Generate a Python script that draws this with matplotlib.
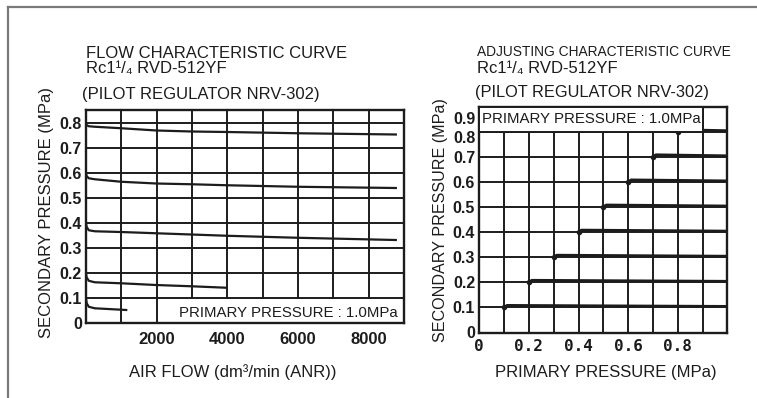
import matplotlib
matplotlib.use("Agg")
import matplotlib.pyplot as plt
from matplotlib.patches import Rectangle
from matplotlib.lines import Line2D
from matplotlib.transforms import ScaledTranslation
from matplotlib import font_manager

# ---------------- data ----------------
flow_ticks = [2000, 4000, 6000, 8000]
flow_yticks = [0, 0.1, 0.2, 0.3, 0.4, 0.5, 0.6, 0.7, 0.8]

# flow characteristic curves (set pressure 0.8, 0.6, 0.4, 0.2, 0.1 MPa)
c08_x = [0, 20, 80, 250, 1000, 2000, 3000, 4000, 6000, 8800]
c08_y = [0.800, 0.792, 0.788, 0.786, 0.780, 0.771, 0.767, 0.765, 0.760, 0.755]
c06_x = [0, 20, 80, 250, 1000, 2000, 3000, 4000, 6000, 8800]
c06_y = [0.600, 0.588, 0.580, 0.576, 0.566, 0.559, 0.556, 0.552, 0.546, 0.541]
c04_x = [0, 20, 80, 250, 1000, 2000, 4000, 6000, 8800]
c04_y = [0.400, 0.385, 0.372, 0.368, 0.365, 0.360, 0.350, 0.342, 0.333]
c02_x = [0, 20, 80, 250, 1000, 2000, 3000, 4000]
c02_y = [0.200, 0.183, 0.170, 0.164, 0.160, 0.153, 0.148, 0.142]
c01_x = [0, 20, 80, 250, 1170]
c01_y = [0.100, 0.080, 0.066, 0.060, 0.053]

flow_curves_x = [c08_x, c06_x, c04_x, c02_x, c01_x]
flow_curves_y = [c08_y, c06_y, c04_y, c02_y, c01_y]

# adjusting characteristic (set points)
adj_set = [0.1, 0.2, 0.3, 0.4, 0.5, 0.6, 0.7, 0.8]
adj_xticks = [0, 0.2, 0.4, 0.6, 0.8]
adj_xticklabels = ["0", "0.2", "0.4", "0.6", "0.8"]
adj_yticks = [0, 0.1, 0.2, 0.3, 0.4, 0.5, 0.6, 0.7, 0.8, 0.9]

# ---------------- style ----------------
avail = {f.name for f in font_manager.fontManager.ttflist}
NARROW = "Liberation Sans Narrow" if "Liberation Sans Narrow" in avail else "Liberation Sans"
FAM = ["Liberation Sans", "DejaVu Sans"]
NFAM = [NARROW, "Liberation Sans", "DejaVu Sans"]
plt.rcParams["font.family"] = FAM
INK = "#1c1c1c"
GLW = 1.4
CLW = 1.6

W, H = 757, 398
fig = plt.figure(figsize=(W / 100, H / 100), dpi=100)
fig.patch.set_facecolor("white")

def fx(px):
    return px / W

def fy(py):
    return 1 - py / H

# outer frame (top and left lines)
fig.add_artist(Line2D([fx(8), 1.0], [fy(7), fy(7)], color="#7a7a7a", lw=1.6, transform=fig.transFigure))
fig.add_artist(Line2D([fx(8), fx(8)], [fy(7), 0.0], color="#7a7a7a", lw=1.6, transform=fig.transFigure))

# ---------------- left: flow characteristic ----------------
axL = fig.add_axes([fx(86), fy(323.3), fx(404 - 86), (323.3 - 110) / H])
axL.set_xlim(0, 9000)
axL.set_ylim(0, 0.853)
for v in range(1000, 9000, 1000):
    axL.axvline(v, color=INK, lw=GLW, zorder=1)
for v in flow_yticks[1:]:
    axL.axhline(v, color=INK, lw=GLW, zorder=1)
for xs, ys in zip(flow_curves_x, flow_curves_y):
    axL.plot(xs, ys, color=INK, lw=CLW, zorder=3, solid_capstyle="butt")
axL.add_patch(Rectangle((2650, 0.004), 6300, 0.092, facecolor="white", edgecolor="none", zorder=2))
axL.text(8830, 0.040, "PRIMARY PRESSURE : 1.0MPa", ha="right", va="center",
         fontsize=10.8, color=INK, zorder=4)
axL.set_xticks(flow_ticks)
axL.set_xticklabels([str(t) for t in flow_ticks], fontsize=12, fontweight="bold", color=INK)
axL.set_yticks(flow_yticks)
axL.set_yticklabels(["0" if t == 0 else f"{t:.1f}" for t in flow_yticks],
                    fontsize=11.5, fontweight="bold", color=INK)
axL.tick_params(axis="both", length=0)
axL.tick_params(axis="x", pad=6)
axL.tick_params(axis="y", pad=3)
for s in axL.spines.values():
    s.set_color(INK)
    s.set_linewidth(GLW + 0.3)

fig.text(fx(86), fy(53), "FLOW CHARACTERISTIC CURVE", fontsize=12, color=INK, ha="left", va="center")
fig.text(fx(86), fy(68.5), "Rc1¹/₄ RVD-512YF", fontsize=12, color=INK, ha="left", va="center")
fig.text(fx(82), fy(95), "(PILOT REGULATOR NRV-302)", fontsize=12, color=INK, ha="left", va="center")
fig.text(fx(47), fy(212), "SECONDARY PRESSURE (MPa)", fontsize=12, color=INK, rotation=90,
         ha="center", va="center")
fig.text(fx(233), fy(372), "AIR FLOW (dm³/min (ANR))", fontsize=12, color=INK, ha="center", va="center")

# ---------------- right: adjusting characteristic ----------------
axR = fig.add_axes([fx(479.3), fy(332.5), fx(727.3 - 479.3), (332.5 - 106.6) / H])
axR.set_xlim(0, 1.0)
axR.set_ylim(0, 0.9)
for i in range(1, 10):
    axR.axvline(i / 10, color=INK, lw=GLW, zorder=1)
for v in adj_yticks[1:-1]:
    axR.axhline(v, color=INK, lw=GLW, zorder=1)
for s in adj_set:
    axR.plot([s, s + 0.012, 0.5 * (s + 1.0), 1.0], [s, s + 0.008, s + 0.006, s + 0.004],
             color=INK, lw=CLW + 0.4, zorder=3, solid_capstyle="butt")
    axR.plot([s], [s], marker="o", ms=3, color=INK, zorder=3)
axR.add_patch(Rectangle((0, 0.8), 0.9, 0.1, facecolor="white", edgecolor=INK, lw=GLW, zorder=4))
axR.text(0.45, 0.852, "PRIMARY PRESSURE : 1.0MPa", ha="center", va="center",
         fontsize=10.8, color=INK, zorder=5)
axR.set_xticks(adj_xticks)
axR.set_xticklabels(adj_xticklabels, fontsize=11.5, fontweight="bold", color=INK,
                    family=["DejaVu Sans Mono"])
axR.set_yticks(adj_yticks)
axR.set_yticklabels(["0" if t == 0 else f"{t:.1f}" for t in adj_yticks],
                    fontsize=11.5, fontweight="bold", color=INK)
axR.tick_params(axis="both", length=0)
axR.tick_params(axis="x", pad=5)
axR.tick_params(axis="y", pad=3)
ylabs = axR.get_yticklabels()
ylabs[-1].set_transform(ylabs[-1].get_transform() + ScaledTranslation(0, -11 / 100, fig.dpi_scale_trans))
ylabs[-2].set_transform(ylabs[-2].get_transform() + ScaledTranslation(0, -5 / 100, fig.dpi_scale_trans))
for s in axR.spines.values():
    s.set_color(INK)
    s.set_linewidth(GLW + 0.3)

fig.text(fx(477), fy(52.5), "ADJUSTING CHARACTERISTIC CURVE", fontsize=12 if NARROW != "Liberation Sans" else 9.9,
         color=INK, ha="left", va="center", family=NFAM)
fig.text(fx(477), fy(68.5), "Rc1¹/₄ RVD-512YF", fontsize=12, color=INK, ha="left", va="center")
fig.text(fx(475), fy(92), "(PILOT REGULATOR NRV-302)", fontsize=11.8, color=INK, ha="left", va="center")
fig.text(fx(441), fy(220), "SECONDARY PRESSURE (MPa)", fontsize=11.6, color=INK, rotation=90,
         ha="center", va="center")
fig.text(fx(606), fy(372), "PRIMARY PRESSURE (MPa)", fontsize=12, color=INK, ha="center", va="center")

fig.savefig("out.png", dpi=100, facecolor="white")
